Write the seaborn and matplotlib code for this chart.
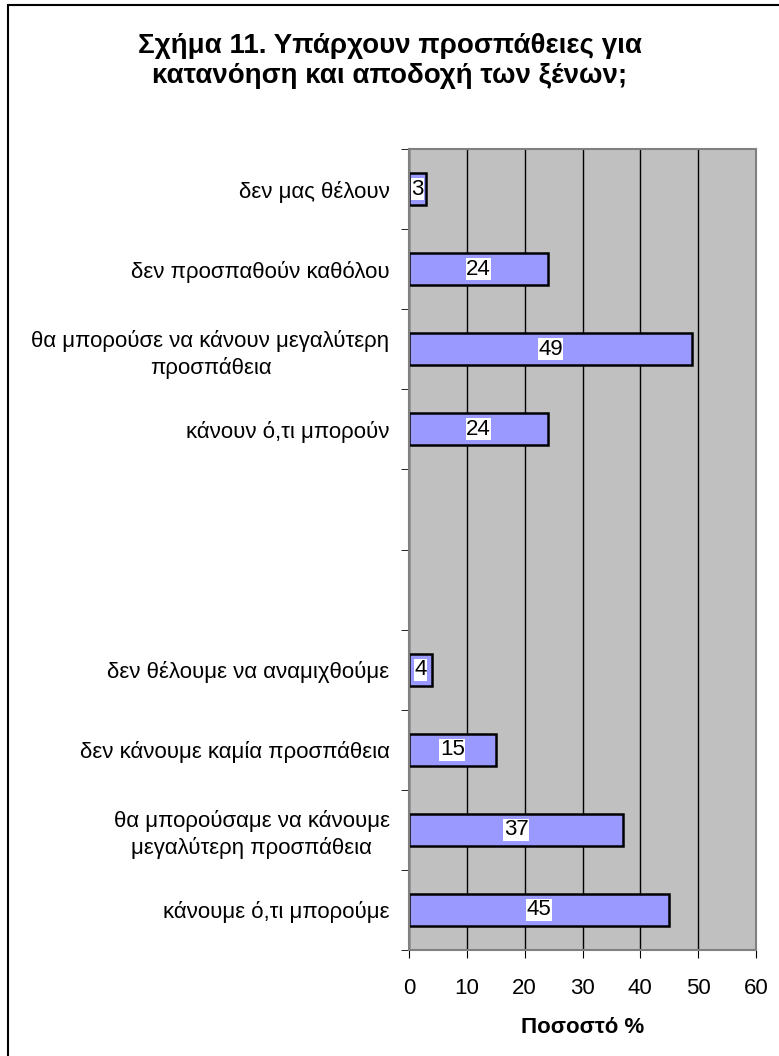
import matplotlib
matplotlib.use("Agg")
import pandas as pd
import matplotlib.pyplot as plt
import seaborn as sb
from matplotlib.patches import Rectangle

# Κατηγορίες από πάνω προς τα κάτω (οι κενές κρατούν το διάστημα)
kathgories = ["δεν μας θέλουν",
              "δεν προσπαθούν καθόλου",
              "θα μπορούσε να κάνουν μεγαλύτερη\nπροσπάθεια",
              "κάνουν ό,τι μπορούν",
              " ",
              "  ",
              "δεν θέλουμε να αναμιχθούμε",
              "δεν κάνουμε καμία προσπάθεια",
              "θα μπορούσαμε να κάνουμε\nμεγαλύτερη προσπάθεια",
              "κάνουμε ό,τι μπορούμε"]
pososta = [3, 24, 49, 24, None, None, 4, 15, 37, 45]
x_ticks = [0, 10, 20, 30, 40, 50, 60]

sb.set_style("white")
plt.rcParams["font.family"] = ["Liberation Sans", "DejaVu Sans"]
plt.rcParams["text.color"] = "black"
plt.rcParams["xtick.color"] = "black"
plt.rcParams["ytick.color"] = "black"
plt.rcParams["axes.labelcolor"] = "black"

df = pd.DataFrame({"kat": kathgories, "pososto": pososta})

fig = plt.figure(figsize=(7.79, 10.56), dpi=100)
ax = fig.add_axes([409 / 779, 1 - 950 / 1056, (756 - 409) / 779, (950 - 149) / 1056])

ax.set_facecolor("#C0C0C0")
ax.set_axisbelow(True)
ax.grid(axis="x", color="black", linewidth=1)

sb.barplot(data=df, x="pososto", y="kat", order=kathgories, orient="h",
           color="#9999FF", saturation=1, width=0.4, edgecolor="black",
           linewidth=1.8, errorbar=None, ax=ax)

for i, v in enumerate(pososta):
    if v is None:
        continue
    ax.text(v / 2, i, str(v), ha="center", va="center", fontsize=16,
            bbox=dict(facecolor="white", edgecolor="none", pad=0.3))

ax.set_xlim(0, 60)
ax.set_xticks(x_ticks)
ax.set_ylim(len(kathgories) - 0.5, -0.5)

# διαχωριστικά σημάδια ανάμεσα στις κατηγορίες
ax.set_yticks([i - 0.5 for i in range(len(kathgories) + 1)], minor=True)
ax.tick_params(axis="y", which="major", length=0, pad=14, labelsize=16)
ax.tick_params(axis="y", which="minor", length=6, color="black", left=True)
ax.tick_params(axis="x", length=6, color="black", bottom=True, labelsize=16, pad=14)
for lbl in ax.get_yticklabels():
    lbl.set_multialignment("center")
    lbl.set_linespacing(1.3)

for s in ax.spines.values():
    s.set_visible(True)
    s.set_color("#808080")
    s.set_linewidth(1.5)

ax.set_ylabel("")
ax.set_xlabel("Ποσοστό %", fontsize=16, fontweight="bold", labelpad=13)

fig.text(0.5, 1 - 61 / 1056, "Σχήμα 11. Υπάρχουν προσπάθειες για\nκατανόηση και αποδοχή των ξένων;",
         ha="center", va="center", fontsize=20, fontweight="bold", linespacing=1.22)

fig.patches.append(Rectangle((8 / 779, -0.01), 1.0, 1 - 5 / 1056 + 0.01,
                             transform=fig.transFigure, fill=False,
                             edgecolor="black", linewidth=1.5))

fig.savefig("out.png", dpi=100)
